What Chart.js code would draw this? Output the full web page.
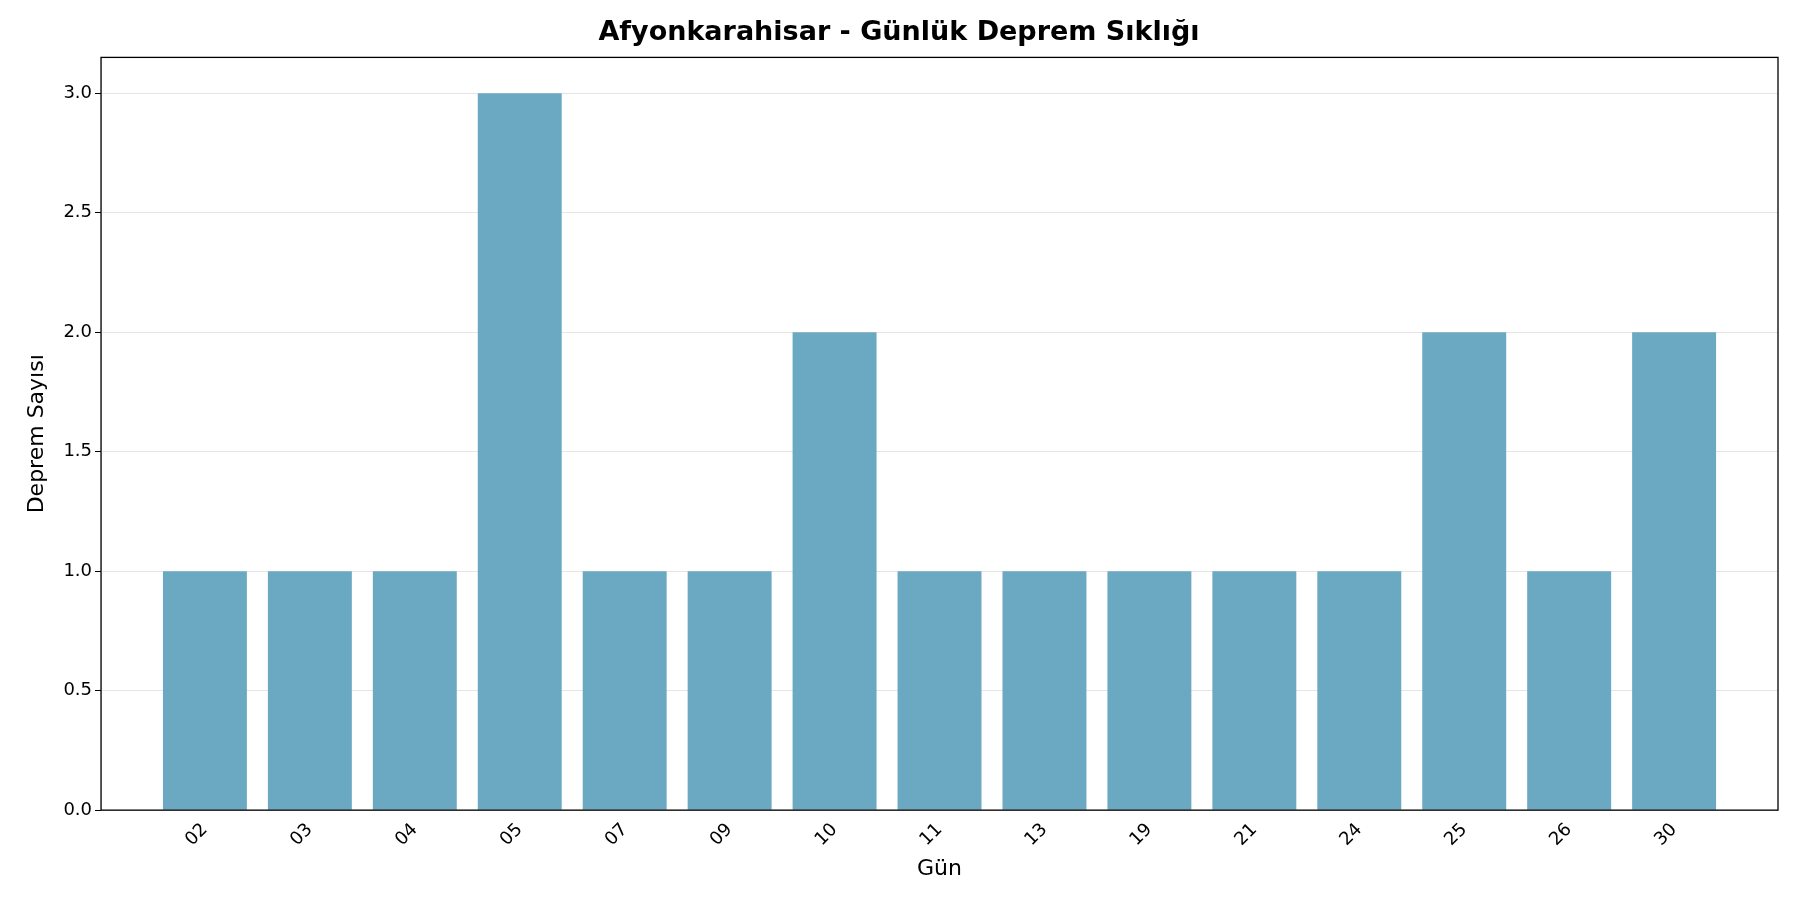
<!DOCTYPE html>
<html><head><meta charset="utf-8">
<script src="https://cdn.jsdelivr.net/npm/chart.js@4/dist/chart.umd.min.js"></script>
<style>html,body{margin:0;background:#fff}#w{width:1800px;height:900px}</style>
</head><body><div id="w"><canvas id="c"></canvas></div>
<script>
const days = ["02","03","04","05","07","09","10","11","13","19","21","24","25","26","30"];
const counts = [1,1,1,3,1,1,2,1,1,1,1,1,2,1,2];
const yTicks = [0,0.5,1,1.5,2,2.5,3];
const F = "'DejaVu Sans'";
const frame = {id:'frame',afterDraw(ch){const a=ch.chartArea,c=ch.ctx;c.save();c.strokeStyle='#000';c.lineWidth=1.3;c.strokeRect(a.left,a.top,a.right-a.left,a.bottom-a.top);c.restore();}};
new Chart(document.getElementById('c'),{
 type:'bar',
 data:{datasets:[{data:days.map((d,i)=>({x:i,y:counts[i]})),backgroundColor:'rgb(107,169,195)',categoryPercentage:0.8,barPercentage:1}]},
 options:{responsive:true,maintainAspectRatio:false,animation:false,
  layout:{padding:{left:20,right:22,top:5,bottom:14}},
  plugins:{legend:{display:false},tooltip:{enabled:false},
   title:{display:true,text:'Afyonkarahisar - Günlük Deprem Sıklığı',font:{family:F,size:27,weight:'bold'},color:'#000',padding:{top:12,bottom:8}}},
  scales:{
   x:{type:'linear',min:-0.99,max:14.99,offset:false,
    afterBuildTicks(s){s.ticks=days.map((d,i)=>({value:i}));},
    ticks:{callback:(v)=>days[v],maxRotation:45,minRotation:45,color:'#000',font:{family:F,size:18}},
    grid:{display:false,drawTicks:true,tickLength:6},
    title:{display:true,text:'Gün',font:{family:F,size:22},color:'#000',padding:{top:2}}},
   y:{min:0,max:3.15,
    afterBuildTicks(s){s.ticks=yTicks.map(v=>({value:v}));},
    ticks:{callback:v=>v.toFixed(1),color:'#000',font:{family:F,size:18}},
    grid:{color:'rgba(0,0,0,0.1)',tickLength:6,tickColor:'#000'},
    title:{display:true,text:'Deprem Sayısı',font:{family:F,size:22},color:'#000',padding:{bottom:10}}}
  }},
 plugins:[frame]
});
</script></body></html>
